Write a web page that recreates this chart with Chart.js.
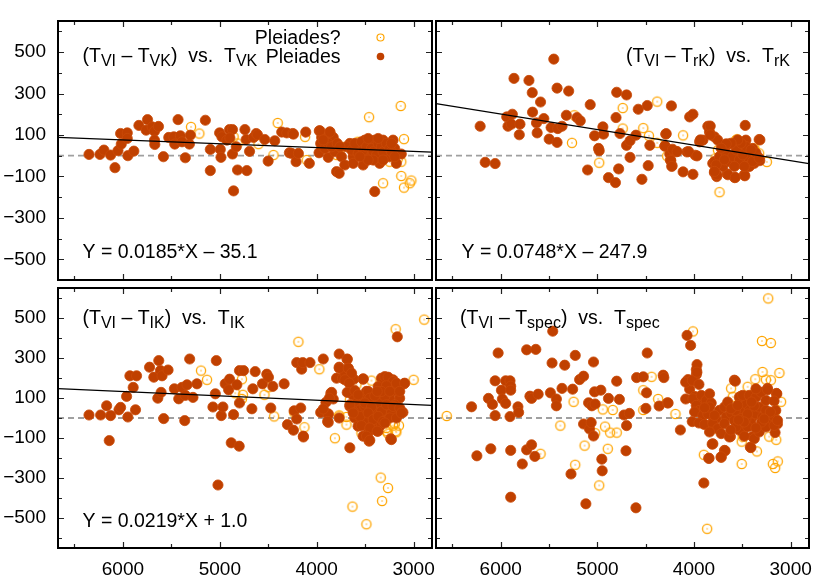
<!DOCTYPE html>
<html>
<head>
<meta charset="utf-8">
<script src="https://cdn.jsdelivr.net/npm/chart.js@4.4.1/dist/chart.umd.min.js"></script>
<style>
  body { margin: 0; background: #fff; }
  #wrap { position: relative; width: 830px; height: 581px; }
  #wrap canvas { position: absolute; left: 0; top: 0; }
</style>
</head>
<body>
<div id="wrap">
  <canvas id="tl" width="830" height="581"></canvas>
  <canvas id="tr" width="830" height="581"></canvas>
  <canvas id="bl" width="830" height="581"></canvas>
  <canvas id="br" width="830" height="581"></canvas>
</div>
<script>
// axes
const xMin = 2810
const xMax = 6670
const yTickLabels = [-500, -300, -100, 100, 300, 500]
const xTickLabels = [6000, 5000, 4000, 3000]
const zeroLine = [[6670, 0], [2810, 0]]

// [T, T_VI - T]
const vkFilled = [[6350,6],[6237,6],[6196,27],[6127,3],[6082,-58],[6051,24],[6024,107],[6017,56],[5955,110],[5955,83],[5949,0],[5887,22],[5835,146],[5760,123],[5746,174],[5698,139],[5674,118],[5633,141],[5674,75],[5671,54],[5582,-5],[5527,88],[5475,91],[5465,56],[5431,174],[5407,96],[5390,67],[5356,-10],[5314,56],[5304,99],[5149,171],[5098,30],[5098,-72],[5002,110],[4978,91],[4995,30],[4988,-8],[4927,75],[4900,126],[4869,126],[4896,86],[4869,8],[4858,-170],[4830,43],[4817,-69],[4741,126],[4728,78],[4721,-72],[4693,21],[4652,88],[4625,107],[4611,101],[4536,78],[4501,-26],[4433,72],[4361,114],[4309,110],[4247,107],[4282,14],[4258,11],[4240,104],[4213,-29],[4189,11],[4113,114],[4076,-37],[3973,120],[3976,14],[3949,88],[3932,43],[3915,78],[3881,-8],[3864,115],[3829,88],[3812,19],[3795,-77],[3768,-85],[3744,-5],[3710,-45],[3658,59],[3624,-5],[3590,27],[3555,43],[3521,-45],[3504,75],[3487,11],[3453,59],[3435,-5],[3401,75],[3401,-173],[3384,35],[3350,-37],[3315,75],[3298,11],[3264,51],[3247,-5],[3212,75],[3195,35],[3178,-37],[3127,8],[3692,43],[3640,27],[3606,59],[3572,11],[3537,67],[3520,27],[3486,43],[3469,83],[3435,35],[3417,19],[3383,3],[3366,59],[3332,43],[3315,19],[3280,59],[3246,35],[3229,19],[3194,-5],[3417,-21],[3469,-21],[3623,-37],[3315,-21],[3229,59],[3366,83],[3555,-5],[3959,59],[3915,35],[3881,59],[3846,43],[3788,59],[3760,43],[3967,120],[3864,113],[3933,76]]
const vkOpen = [[5297,139],[5211,107],[4858,91],[4817,59],[4601,56],[4402,158],[4446,3],[4120,91],[4103,-21],[3793,3],[3741,43],[3576,67],[3459,186],[3315,-133],[3247,-29],[3212,11],[3133,240],[3127,-98],[3099,80],[3099,-154],[3040,-133],[3023,-120],[3160,-13],[3127,-29],[3185,9]]
const vkFit = [[6670,88],[2810,17]]

const rkFilled = [[6213,142],[6161,-32],[6058,-38],[5863,373],[5938,187],[5880,200],[5925,142],[5890,152],[5801,152],[5808,101],[5708,363],[5674,304],[5671,210],[5630,158],[5623,110],[5588,259],[5554,179],[5499,80],[5479,136],[5451,466],[5417,326],[5417,64],[5410,131],[5366,142],[5321,195],[5297,312],[5211,184],[5177,168],[5101,-69],[5074,246],[5029,96],[4988,35],[4981,24],[4943,139],[4937,104],[4885,-106],[4813,-130],[4807,184],[4800,306],[4780,-64],[4766,107],[4698,293],[4698,50],[4662,72],[4662,-8],[4601,99],[4577,224],[4539,-114],[4484,242],[4474,-48],[4457,50],[4302,46],[4292,104],[4251,8],[4244,-21],[4234,240],[4227,-48],[4182,19],[4113,-78],[4073,18],[4045,187],[4011,200],[4011,-90],[3987,2],[3942,67],[3908,75],[3857,142],[3840,115],[3806,-37],[3789,91],[3789,-82],[3765,-101],[3754,75],[3730,-37],[3686,-5],[3658,-88],[3641,56],[3607,-5],[3579,-106],[3566,59],[3531,43],[3514,-37],[3480,-93],[3470,146],[3463,75],[3446,-5],[3429,-50],[3394,35],[3377,-37],[3326,78],[3319,-24],[4288,106],[4299,47],[4222,31],[4175,20],[4240,-23],[4230,-52],[4055,20],[3969,-1],[3935,76],[3832,143],[3832,100],[3318,76],[3762,-92],[3649,-92],[3573,-105],[3474,-97],[3788,-28],[3736,-4],[3702,-52],[3667,12],[3633,-28],[3599,-4],[3564,28],[3530,-20],[3496,4],[3461,44],[3427,-52],[3393,-28],[3358,12],[3513,60],[3548,76],[3616,60],[3667,57],[3719,36],[3770,-44],[3788,-76],[3685,-20],[3582,-52],[3479,-52],[3410,28],[3325,-12]]
const rkOpen = [[5263,62],[5239,195],[4981,-34],[4738,230],[4738,131],[4525,133],[4467,96],[4381,261],[4381,62],[4278,-2],[4113,98],[3777,-13],[3736,-176],[3702,27],[3566,75],[3514,67],[3377,35],[3326,11],[3246,-30],[3753,27],[3446,19],[3554,79],[3376,31]]
const rkFit = [[6670,251],[2810,-38]]

const ikFilled = [[6350,15],[6230,15],[6168,61],[6141,-113],[6127,12],[6041,41],[6024,53],[5962,108],[5949,5],[5928,211],[5894,153],[5870,41],[5859,211],[5725,254],[5681,204],[5630,287],[5640,99],[5613,237],[5606,128],[5596,211],[5579,-3],[5534,240],[5469,146],[5424,96],[5390,153],[5362,-13],[5356,113],[5338,166],[5311,295],[5277,103],[5236,171],[5071,55],[5036,287],[5046,121],[4985,12],[4968,55],[4944,171],[4909,141],[4899,194],[4882,-124],[4858,17],[4824,166],[4800,-141],[4797,75],[4797,237],[4755,237],[4669,46],[4659,146],[4635,232],[4560,171],[4515,219],[4498,204],[4474,50],[4453,158],[5019,-335],[4336,171],[4302,-33],[4240,-61],[4233,36],[4206,-5],[4206,277],[4165,50],[4155,244],[4144,277],[4137,-95],[4069,277],[3959,28],[3932,295],[3905,78],[3881,-22],[3854,124],[3881,17],[3829,95],[3795,199],[3768,320],[3768,254],[3768,0],[3734,199],[3710,224],[3686,293],[3675,249],[3658,-149],[3658,58],[3631,116],[3617,194],[3607,0],[3573,-41],[3538,99],[3521,194],[3521,-91],[3487,133],[3470,-75],[3459,-116],[3446,66],[3418,-8],[3384,95],[3367,-66],[3350,141],[3332,199],[3308,25],[3288,158],[3274,199],[3236,-104],[3212,191],[3195,136],[3168,12],[3151,153],[3144,99],[3127,25],[3110,28],[3099,171],[3168,406],[3589,75],[3555,41],[3503,58],[3452,25],[3400,50],[3349,75],[3315,-8],[3280,58],[3246,99],[3229,25],[3194,66],[3400,-25],[3349,-41],[3486,-8],[3555,8],[3623,33],[3297,108],[3383,25],[3435,-41],[3332,33],[3685,295],[3767,249],[3675,249],[3640,224],[3709,191],[3664,174],[3520,196],[3297,207],[3263,204],[3212,182],[3177,174],[3092,174],[3366,157],[3280,161],[3332,133],[3246,133],[3143,133],[3846,128],[3870,99],[3685,128],[3606,137],[3572,116],[3469,133],[3452,99],[3400,111],[3376,133],[3658,66],[3503,75],[3435,55],[3280,66],[3212,58],[3143,50],[3623,25],[3469,25],[3417,-8],[3366,8],[3315,-17],[3246,0],[3177,0],[3538,-38],[3452,-50],[3376,-66],[3297,-25],[3486,-91],[3452,-111],[3229,-108],[4138,-91],[3881,21],[3932,45],[3887,-17],[3126,25]]
const ikOpen = [[5194,237],[5132,191],[4841,124],[4772,194],[4762,116],[4772,95],[4539,116],[4498,154],[4439,8],[4233,28],[4189,381],[4127,-46],[3973,244],[3812,-101],[3768,13],[3693,-33],[3693,5],[3658,91],[3590,166],[3631,-443],[3538,-75],[3487,-531],[3435,187],[3339,-298],[3325,-415],[3264,-350],[3281,-50],[3281,-66],[3185,444],[3195,-28],[3178,-71],[3151,-38],[3000,191],[2890,492],[3521,108],[3247,33],[3767,8],[3263,-78],[3184,-66],[3212,-38]]
const ikFit = [[6670,147],[2810,63]]

const specFilled = [[6302,56],[6247,-189],[6127,98],[6103,-154],[6086,68],[6058,186],[6058,12],[6027,325],[5993,139],[5983,95],[5949,186],[5949,73],[5904,186],[5904,7],[5897,-162],[5897,-396],[5897,159],[5897,139],[5822,56],[5815,28],[5777,-230],[5732,341],[5732,-159],[5698,109],[5681,98],[5681,-134],[5647,-192],[5637,343],[5613,119],[5486,126],[5469,275],[5462,434],[5424,95],[5424,61],[5366,148],[5338,264],[5273,-280],[5256,144],[5229,313],[5184,192],[5143,209],[5143,-30],[5119,-429],[5091,76],[5081,-55],[5064,-23],[5057,61],[5040,280],[5040,-90],[5023,70],[5029,131],[4964,139],[4954,-206],[4950,-264],[4885,98],[4800,184],[4772,93],[4724,15],[4698,-38],[4704,-164],[4669,23],[4594,202],[4601,-449],[4525,206],[4498,48],[4491,126],[4484,325],[4361,60],[4319,214],[4312,202],[4275,76],[4141,-60],[4086,95],[4072,413],[4062,192],[4045,144],[4035,363],[4028,186],[4018,-18],[3994,108],[3976,242],[3976,217],[3976,32],[3969,267],[3959,76],[3908,23],[3898,-325],[3901,-30],[3846,-201],[3839,76],[3805,-129],[3788,7],[3719,-197],[3685,-162],[3623,-93],[3582,189],[3513,109],[3469,109],[3417,-146],[3393,-93],[3239,148],[3147,123],[3137,-30],[3161,-73],[4086,179],[4017,188],[3949,168],[4268,75],[3970,229],[4011,96],[3977,63],[3925,113],[3874,88],[3822,75],[3839,121],[3942,38],[3994,30],[3908,13],[3857,21],[3949,-25],[3891,-32],[3805,-20],[3771,-3],[3737,38],[3685,55],[3668,5],[3617,25],[3582,-12],[3531,21],[3496,46],[3462,71],[3428,38],[3394,5],[3359,21],[3325,55],[3291,5],[3256,38],[3222,-12],[3188,13],[3154,38],[3531,104],[3496,113],[3428,113],[3359,104],[3256,88],[3308,129],[3572,184],[3359,146],[3239,141],[3143,121],[3805,-28],[3754,-53],[3839,-70],[3719,-78],[3634,-95],[3531,-61],[3479,-91],[3376,-103],[3325,-70],[3256,-45],[3171,-37],[3411,-25],[3445,-45],[3565,-45],[3685,-28],[3812,-131],[3678,-164],[3719,-194],[3846,-202],[3411,-148],[3572,38],[3651,80],[3617,46],[3548,63],[3462,-3],[3171,85],[3136,-12],[3788,13],[3839,55],[3891,51],[3446,20],[3376,60],[3300,-20],[3480,-20],[3405,80],[3210,30],[3620,-60],[3540,-10],[3274,-5],[3360,-50]]
const specOpen = [[6559,10],[5588,-179],[5383,-38],[5246,81],[5229,-234],[5132,-138],[5023,-76],[4981,-337],[4944,43],[4920,-43],[4892,-154],[4868,-73],[4800,-73],[4841,40],[4525,139],[4525,40],[4439,206],[4371,95],[4192,20],[4011,433],[3898,-184],[3864,-554],[3788,-51],[3692,-60],[3616,148],[3599,106],[3506,-230],[3506,-118],[3349,-167],[3366,194],[3297,385],[3291,230],[3256,192],[3232,598],[3205,375],[3205,189],[3184,-230],[3160,-250],[3133,-217],[3116,225],[3099,81],[3149,-109],[3222,-93],[3342,123],[3160,32],[3530,-35],[3496,-93],[3445,156]]

const MAIN_FONT = '19.5px "Liberation Sans", Arial, sans-serif'
const SUB_FONT = '16px "Liberation Sans", Arial, sans-serif'
const FILLED = '#c04000'
const OPEN = '#ffa500'

function ringImage(r, lw) {
  const c = document.createElement('canvas')
  c.width = 14
  c.height = 14
  const g = c.getContext('2d')
  g.strokeStyle = OPEN
  g.lineWidth = lw
  g.beginPath()
  g.arc(7, 7, r, 0, Math.PI * 2)
  g.stroke()
  g.fillStyle = OPEN
  g.fillRect(6.4, 6.4, 1.2, 1.2)
  return c
}
const ring = ringImage(4.6, 1.3)

function drawRich(ctx, x, y, parts, align) {
  let w = 0
  parts.forEach((p) => {
    ctx.font = p[1] ? SUB_FONT : MAIN_FONT
    w += ctx.measureText(p[0]).width
  })
  let cx = align === 'right' ? x - w : x
  ctx.fillStyle = '#000'
  ctx.textAlign = 'left'
  ctx.textBaseline = 'alphabetic'
  parts.forEach((p) => {
    ctx.font = p[1] ? SUB_FONT : MAIN_FONT
    ctx.fillText(p[0], cx, p[1] ? y + 4 : y)
    cx += ctx.measureText(p[0]).width
  })
}

// frame with inward ticks on all four sides, plus the text of the panel
const framePlugin = {
  id: 'frame',
  afterDraw(chart, args, opts) {
    const ctx = chart.ctx
    const a = chart.chartArea
    const xs = chart.scales.x
    const ys = chart.scales.y
    ctx.save()
    ctx.strokeStyle = '#222'
    ctx.lineWidth = 1.2
    ctx.beginPath()
    for (let v = -600; v <= 600; v += 100) {
      if (v <= ys.min || v >= ys.max) continue
      const py = Math.round(ys.getPixelForValue(v)) + 0.5
      const len = Math.abs(v / 100) % 2 === 1 ? 6 : 4
      ctx.moveTo(a.left, py)
      ctx.lineTo(a.left + len, py)
      ctx.moveTo(a.right, py)
      ctx.lineTo(a.right - len, py)
    }
    for (let v = 3000; v <= 6500; v += 500) {
      const px = Math.round(xs.getPixelForValue(v)) + 0.5
      const len = v % 1000 === 0 ? 6 : 4
      ctx.moveTo(px, a.top)
      ctx.lineTo(px, a.top + len)
      ctx.moveTo(px, a.bottom)
      ctx.lineTo(px, a.bottom - len)
    }
    ctx.stroke()
    ctx.strokeStyle = '#000'
    ctx.lineWidth = 2
    ctx.strokeRect(a.left, a.top, a.right - a.left, a.bottom - a.top)
    ;(opts.texts || []).forEach((t) => drawRich(ctx, t.x, t.y, t.parts, t.align))
    if (opts.legend) {
      ctx.font = MAIN_FONT
      ctx.textAlign = 'right'
      ctx.fillStyle = '#000'
      ctx.fillText('Pleiades?', 340.5, 43.5)
      ctx.fillText('Pleiades', 340.5, 62.5)
      ctx.strokeStyle = OPEN
      ctx.lineWidth = 1.2
      ctx.beginPath()
      ctx.arc(380.5, 37.5, 3.5, 0, Math.PI * 2)
      ctx.stroke()
      ctx.fillStyle = OPEN
      ctx.fillRect(380, 37, 1, 1)
      ctx.fillStyle = FILLED
      ctx.beginPath()
      ctx.arc(380.5, 56.5, 3.8, 0, Math.PI * 2)
      ctx.fill()
    }
    ctx.restore()
  },
}

const pts = (arr) => arr.map((p) => ({ x: p[0], y: p[1] }))
const fmt = (v) => (v < 0 ? '\u2212' + Math.abs(v) : String(v))
const tickFont = { family: '"Liberation Sans", Arial, sans-serif', size: 19 }

function panel(id, cfg) {
  const datasets = []
  if (cfg.fit) {
    datasets.push({
      data: pts(cfg.fit),
      showLine: true,
      borderColor: '#000',
      borderWidth: 1.2,
      pointRadius: 0,
    })
  }
  datasets.push({
    data: pts(cfg.filled),
    pointStyle: 'circle',
    pointRadius: 5.1,
    backgroundColor: FILLED,
    borderColor: '#c94a08',
    borderWidth: 0.8,
  })
  datasets.push({
    data: pts(cfg.open),
    pointStyle: ring,
    pointRadius: 5,
  })
  datasets.push({
    data: pts(zeroLine),
    showLine: true,
    borderColor: '#a0a0a0',
    borderWidth: 1.8,
    borderDash: [6, 4],
    pointRadius: 0,
  })

  new Chart(document.getElementById(id), {
    type: 'scatter',
    data: { datasets: datasets },
    options: {
      responsive: false,
      animation: false,
      events: [],
      layout: { padding: cfg.pad },
      plugins: {
        legend: { display: false },
        tooltip: { enabled: false },
        frame: { texts: cfg.texts, legend: cfg.legend },
      },
      scales: {
        x: {
          type: 'linear',
          reverse: true,
          min: xMin,
          max: xMax,
          display: cfg.xLabels,
          grid: { display: false, drawTicks: false },
          border: { display: false },
          afterBuildTicks: (s) => {
            s.ticks = xTickLabels.map((v) => ({ value: v }))
          },
          afterFit: (s) => {
            if (!cfg.xLabels) return
            s.height = 33
            s.paddingLeft = 0
            s.paddingRight = 0
          },
          ticks: {
            font: tickFont,
            color: '#000',
            padding: 10,
            maxRotation: 0,
            autoSkip: false,
            callback: (v) => String(v),
          },
        },
        y: {
          type: 'linear',
          min: cfg.yMin,
          max: 650,
          display: cfg.yLabels,
          grid: { display: false, drawTicks: false },
          border: { display: false },
          afterBuildTicks: (s) => {
            s.ticks = yTickLabels.map((v) => ({ value: v }))
          },
          afterFit: (s) => {
            if (!cfg.yLabels) return
            s.width = 58
            s.paddingTop = 0
            s.paddingBottom = 0
          },
          ticks: {
            font: tickFont,
            color: '#000',
            padding: 12,
            autoSkip: false,
            callback: fmt,
          },
        },
      },
    },
    plugins: [framePlugin],
  })
}

panel('tl', {
  filled: vkFilled, open: vkOpen, fit: vkFit, yMin: -600,
  xLabels: false, yLabels: true, legend: true,
  pad: { left: 0, top: 21, right: 398, bottom: 301 },
  texts: [
    { x: 82.5, y: 61.5, parts: [['(T', 0], ['VI', 1], [' \u2013 T', 0], ['VK', 1], [')  vs.  T', 0], ['VK', 1]] },
    { x: 82.5, y: 257.5, parts: [['Y = 0.0185*X \u2013 35.1', 0]] },
  ],
})
panel('tr', {
  filled: rkFilled, open: rkOpen, fit: rkFit, yMin: -600,
  xLabels: false, yLabels: false,
  pad: { left: 436, top: 21, right: 21, bottom: 301 },
  texts: [
    { x: 790, y: 61.5, align: 'right', parts: [['(T', 0], ['VI', 1], [' \u2013 T', 0], ['rK', 1], [')  vs.  T', 0], ['rK', 1]] },
    { x: 461.5, y: 257.5, parts: [['Y = 0.0748*X \u2013 247.9', 0]] },
  ],
})
panel('bl', {
  filled: ikFilled, open: ikOpen, fit: ikFit, yMin: -650,
  xLabels: true, yLabels: true,
  pad: { left: 0, top: 288, right: 398, bottom: 0 },
  texts: [
    { x: 82.5, y: 323.5, parts: [['(T', 0], ['VI', 1], [' \u2013 T', 0], ['IK', 1], [')  vs.  T', 0], ['IK', 1]] },
    { x: 82.5, y: 527, parts: [['Y = 0.0219*X + 1.0', 0]] },
  ],
})
panel('br', {
  filled: specFilled, open: specOpen, fit: null, yMin: -650,
  xLabels: true, yLabels: false,
  pad: { left: 436, top: 288, right: 21, bottom: 0 },
  texts: [
    { x: 460, y: 323.5, parts: [['(T', 0], ['VI', 1], [' \u2013 T', 0], ['spec', 1], [')  vs.  T', 0], ['spec', 1]] },
  ],
})
</script>
</body>
</html>
